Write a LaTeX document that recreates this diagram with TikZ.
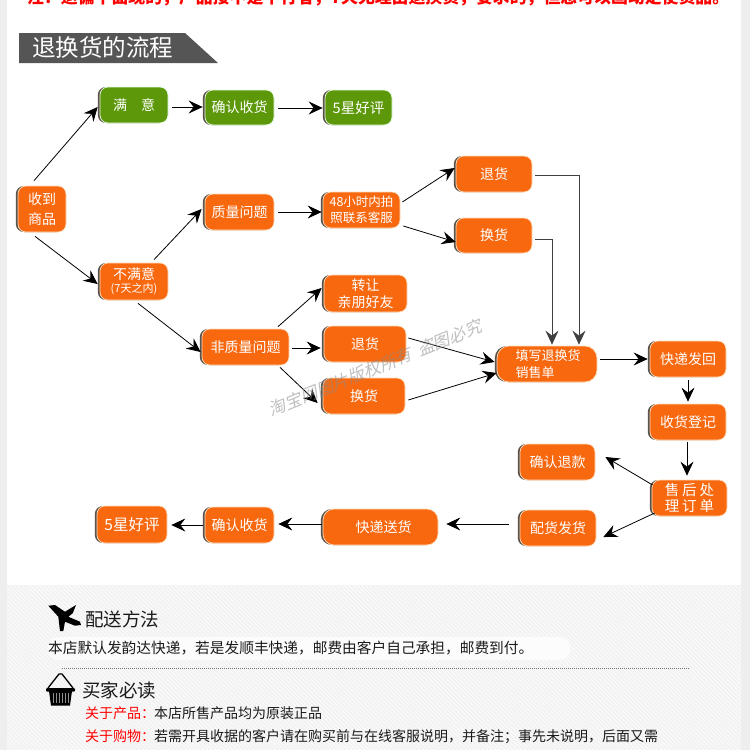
\documentclass[tikz,border=0pt]{standalone}
\usepackage{fontspec}
\setmainfont{Noto Sans CJK SC}
\newfontfamily\wmfont[FakeSlant=0.25]{Noto Sans CJK SC}
\usetikzlibrary{arrows.meta,shadows,patterns.meta}
\definecolor{org}{HTML}{F8680F}
\definecolor{grn}{HTML}{5D980A}
\definecolor{shd}{HTML}{5C5248}
\definecolor{hdr}{HTML}{555555}
\definecolor{gut}{HTML}{EEEEEE}
\definecolor{txtk}{HTML}{1A1A1A}
\tikzset{
  x=1pt,y=-1pt,
  flowbox/.style={rounded corners=8pt,fill=org,draw=#1,line width=0.7pt,text=white,
    align=center,inner sep=0pt,font=\fontsize{14}{18}\selectfont,
    copy shadow={shadow xshift=-2.2pt,shadow yshift=0pt,fill=shd,draw=none}},
  flowbox/.default={orange!25!white},
  greenbox/.style={flowbox=green!10!white,fill=grn},
  arr/.style={-{Stealth[length=14pt,width=13pt,inset=5pt]},line width=0.8pt,black},
  elb/.style={arr,line width=1pt,black!75},
  plain/.style={inner sep=0pt,anchor=west,text=txtk},
}
\begin{document}
\begin{tikzpicture}
\useasboundingbox (0,0) rectangle (750,750);
\clip (0,0) rectangle (750,750);
% page
\fill[gut] (0,0) rectangle (750,750);
\fill[white] (7,0) rectangle (741,585);
\fill[black!5] (7,585) rectangle (741,750);
\fill[pattern={Lines[angle=-45,distance=3pt,line width=0.6pt]},pattern color=white] (7,585) rectangle (741,750);
% top note
\node[inner sep=0pt,anchor=west,text=red,font=\fontsize{16.87}{18}\selectfont\bfseries] (note) at (27,-3)
  {注：退偏个面现的，产品接不是平行者，7天无理由退换货，要求的，但您可以画动定使货品。};
% header
\fill[hdr] (19,33) -- (185,33) -- (218,63) -- (19,63) -- cycle;
\node[plain,text=white,font=\fontsize{23.5}{26}\selectfont] (title) at (32,48) {退换货的流程};
% nodes
\node[greenbox,minimum width=68pt,minimum height=36pt] (sat) at (134,105) {满\hspace{1em}意};
\node[greenbox,minimum width=69pt,minimum height=35pt] (confT) at (239.5,107.5) {确认收货};
\node[greenbox,minimum width=67pt,minimum height=35pt,font=\fontsize{14.5}{18}\selectfont] (starT) at (358.5,107.5) {5星好评};
\node[flowbox,minimum width=48pt,minimum height=46pt,font=\fontsize{14}{20}\selectfont] (recv) at (42,209) {收到\\商品};
\node[flowbox,minimum width=69pt,minimum height=36pt] (qual) at (239.5,212) {质量问题};
\node[flowbox,minimum width=68pt,minimum height=37pt,font=\fontsize{14}{14}\selectfont] (unsat) at (134,281.5) {不满意\\[-1pt]{\fontsize{11}{12}\selectfont(7天之内)}};
\node[flowbox,minimum width=77pt,minimum height=36pt,font=\fontsize{12.5}{16}\selectfont] (h48) at (361.5,210) {48小时内拍\\照联系客服};
\node[flowbox,minimum width=76pt,minimum height=36pt] (retT) at (494,174) {退货};
\node[flowbox,minimum width=76pt,minimum height=35pt] (excT) at (494,235.5) {换货};
\node[flowbox,minimum width=83pt,minimum height=37pt,font=\fontsize{14}{17}\selectfont] (zhuan) at (365.5,293.5) {转让\\亲朋好友};
\node[flowbox,minimum width=82pt,minimum height=36pt] (retM) at (365,344) {退货};
\node[flowbox,minimum width=82pt,minimum height=36pt] (excM) at (364,396) {换货};
\node[flowbox,minimum width=87pt,minimum height=36pt] (nonq) at (245.5,347) {非质量问题};
\node[flowbox,minimum width=100pt,minimum height=36pt,rounded corners=12pt,align=left,font=\fontsize{13}{17}\selectfont] (fillf) at (547,364) {\hspace{2pt}填写退换货\\\hspace{2pt}销售单\hspace{3em}};
\node[flowbox,minimum width=76pt,minimum height=36pt] (fast) at (688,359) {快递发回};
\node[flowbox,minimum width=76pt,minimum height=36pt] (logg) at (688,422) {收货登记};
\node[flowbox,minimum width=75pt,minimum height=36pt] (refund) at (557.5,462) {确认退款};
\node[flowbox,minimum width=75pt,minimum height=36pt,font=\fontsize{14.5}{16.5}\selectfont] (after) at (689.5,498) {售\hspace{3pt}后\hspace{3pt}处\\理\hspace{3pt}订\hspace{3pt}单};
\node[flowbox,minimum width=76pt,minimum height=36pt] (ship) at (558,528) {配货发货};
\node[flowbox,minimum width=115pt,minimum height=36pt,rounded corners=11pt] (expr) at (380.5,527) {\hspace{6pt}快递送货};
\node[flowbox,minimum width=69pt,minimum height=36pt] (confB) at (239.5,525) {确认收货};
\node[flowbox,minimum width=70pt,minimum height=37pt,font=\fontsize{15.5}{18}\selectfont] (starB) at (132,524.5) {5星好评};
% connectors
\draw[arr] ([shift={(-8,-5)}]recv.north) -- ([shift={(-2,2)}]sat.west);
\draw[arr] ([shift={(-7,4)}]recv.south) -- ([shift={(-2,2.5)}]unsat.west);
\draw[arr] ([shift={(4,2)}]sat.east) -- ([shift={(-2,-0.5)}]confT.west);
\draw[arr] ([shift={(4,0.5)}]confT.east) -- ([shift={(-2,0.5)}]starT.west);
\draw[arr] ([shift={(20,-3)}]unsat.north) -- ([shift={(-3,-3)}]qual.west);
\draw[arr] ([shift={(4,0)}]qual.east) -- ([shift={(-1,2)}]h48.west);
\draw[arr] ([shift={(2,-8)}]h48.east) -- ([shift={(-1,-6)}]retT.west);
\draw[arr] ([shift={(3,16)}]h48.east) -- ([shift={(0,6.5)}]excT.west);
\draw[elb] ([shift={(3,1)}]retT.east) -| ([shift={(32,-1)}]fillf.north);
\draw[elb] ([shift={(3,3.5)}]excT.east) -| ([shift={(5,-1)}]fillf.north);
\draw[arr] ([shift={(4,3)}]unsat.south) -- ([shift={(-1,5)}]nonq.west);
\draw[arr] ([shift={(32.5,-2)}]nonq.north) -- ([shift={(-2,-5.5)}]zhuan.west);
\draw[arr] ([shift={(3,1)}]nonq.east) -- ([shift={(-3,4)}]retM.west);
\draw[arr] ([shift={(34.5,2)}]nonq.south) -- ([shift={(-5,7)}]excM.west);
\draw[arr] ([shift={(2,-6)}]retM.east) -- ([shift={(-2,-2)}]fillf.west);
\draw[arr] ([shift={(3,4)}]excM.east) -- ([shift={(0,9)}]fillf.west);
\draw[arr] ([shift={(3,-5)}]fillf.east) -- ([shift={(-2,0)}]fast.west);
\draw[arr] ([shift={(0,3)}]fast.south) -- ([shift={(0,-2)}]logg.north);
\draw[arr] ([shift={(-1,2)}]logg.south) -- ([shift={(-2.5,-4)}]after.north);
\draw[arr] ([shift={(1,-13)}]after.west) -- ([shift={(10,-5)}]refund.east);
\draw[arr] ([shift={(3,15)}]after.west) -- ([shift={(7,9)}]ship.east);
\draw[arr] ([shift={(-11,-4)}]ship.west) -- ([shift={(8,-3)}]expr.east);
\draw[arr] ([shift={(-1,-3)}]expr.west) -- ([shift={(4,-1)}]confB.east);
\draw[arr] ([shift={(-2,0)}]confB.west) -- ([shift={(4,0.5)}]starB.east);
% watermark
\node[rotate=22,text=black!45,opacity=0.55,inner sep=0pt,font=\wmfont\fontsize{17}{19}\selectfont] (wm) at (375,368) {淘宝网图片版权所有\hspace{7pt}盗图必究};
% delivery section
\fill[white,opacity=0.75,rounded corners=10pt] (48,637) rectangle (570,660);
\fill[black] (48.3,605.7) -- (55,605) -- (65,611.7) -- (76,605) -- (72.7,613.3) -- (68.3,616.7) -- (80,621.7) -- (81,625) -- (75,625.7) -- (65,621.7) -- (63.3,631) -- (60,631) -- (58.3,616.7) -- cycle;
\node[plain,font=\fontsize{18.5}{20}\selectfont] (ps) at (85,619) {配送方法};
\node[plain,font=\fontsize{14.7}{16}\selectfont] (psT) at (48,648) {本店默认发韵达快递，若是发顺丰快递，邮费由客户自己承担，邮费到付。};
\coordinate (dotA) at (62,668);
\coordinate (dotB) at (690,668);
\draw[black!55,line width=0.8pt,dash pattern=on 1pt off 1pt] (dotA) -- (dotB);
% basket
\draw[black,line width=1.3pt,line join=round] (48,688) -- (59,674) -- (62,674) -- (73,688);
\fill[black,rounded corners=1pt] (46,688) rectangle (75,691.5);
\fill[black] (49,691) -- (72,691) -- (70,705.5) -- (51,705.5) -- cycle;
\foreach \sx in {53,56,59,62,65,68}{\draw[black!45,line width=0.7pt] (\sx,693) -- (\sx,703);}
\node[plain,font=\fontsize{18.5}{20}\selectfont] (mj) at (82,690) {买家必读};
\node[plain,font=\fontsize{14}{16}\selectfont] (pA) at (85,713) {\textcolor{red}{关于产品：}\hspace{-1pt}本店所售产品均为原装正品};
\node[plain,font=\fontsize{14}{16}\selectfont] (pB) at (85,737) {\textcolor{red}{关于购物：}\hspace{-1pt}若需开具收据的客户请在购买前与在线客服说明，并备注；事先未说明，后面又需};
\end{tikzpicture}
\end{document}
